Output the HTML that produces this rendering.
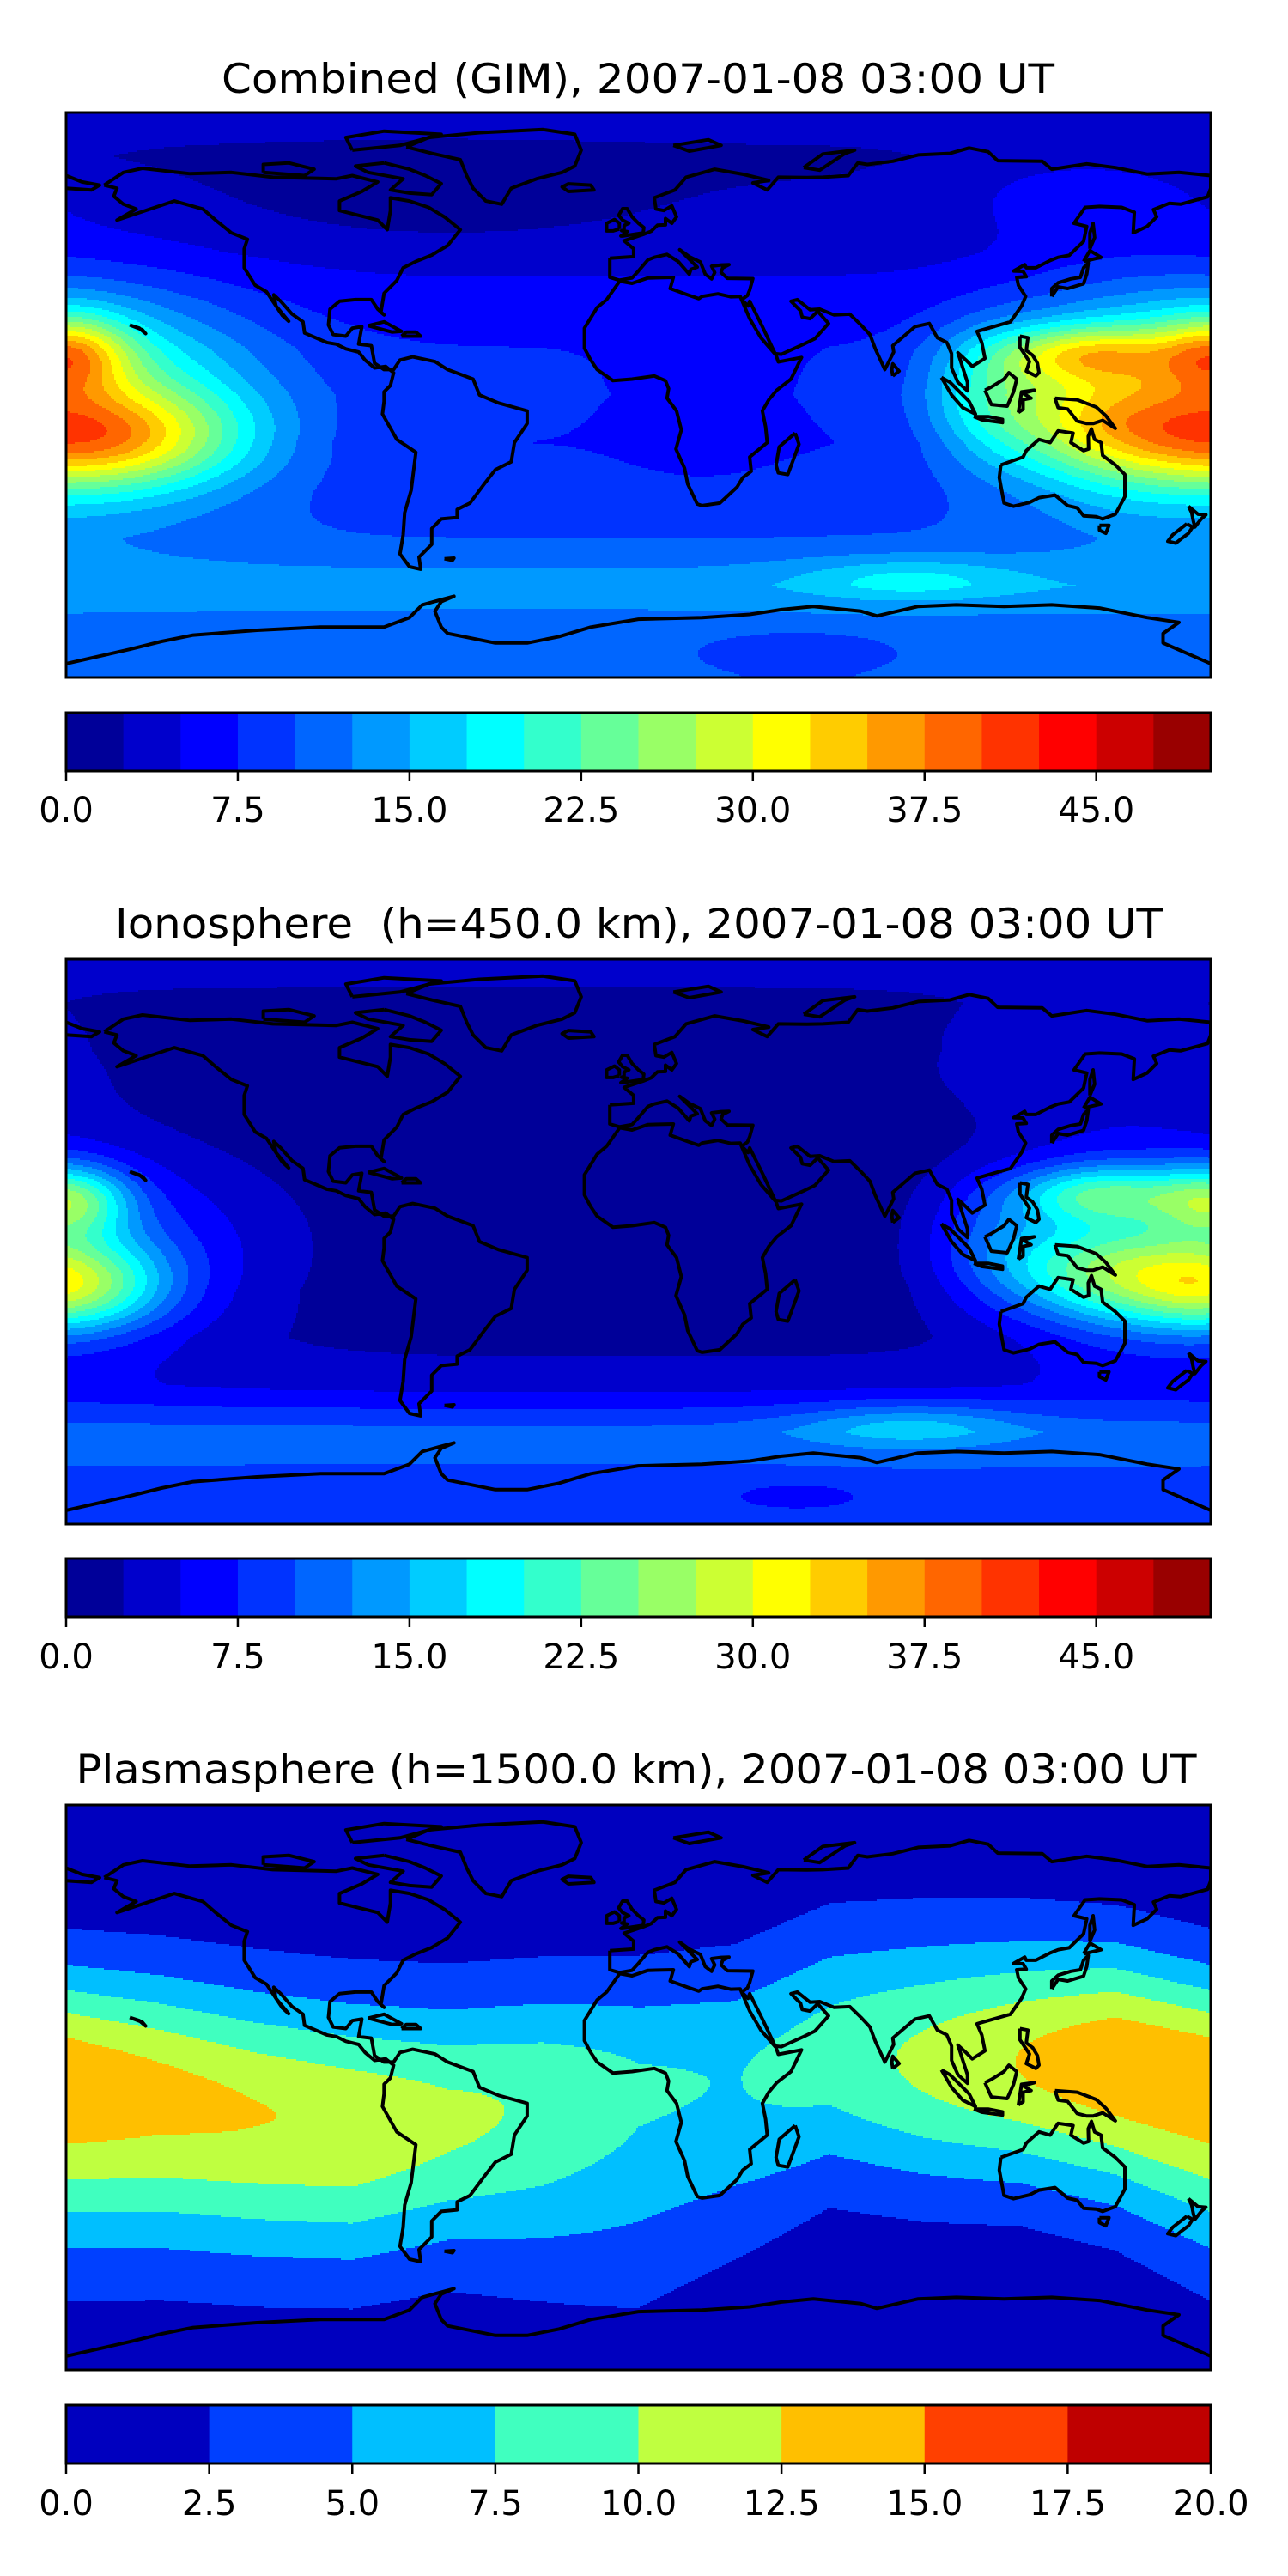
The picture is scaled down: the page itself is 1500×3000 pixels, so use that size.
<!DOCTYPE html>
<html><head><meta charset="utf-8">
<style>
html,body{margin:0;padding:0;background:#fff;}
body{width:1500px;height:3000px;position:relative;overflow:hidden;font-family:"DejaVu Sans","Liberation Sans",sans-serif;}
.map{position:absolute;left:77px;width:1333px;height:658px;}
.map svg{position:absolute;left:0;top:0;overflow:visible;}
svg.full{position:absolute;left:0;top:0;}
</style></head>
<body>
<div class="map" id="map1" style="top:131px"><svg id="f1" width="1333" height="658" shape-rendering="crispEdges"></svg><svg id="s1" width="1333" height="658"></svg></div>
<div class="map" id="map2" style="top:1117px"><svg id="f2" width="1333" height="658" shape-rendering="crispEdges"></svg><svg id="s2" width="1333" height="658"></svg></div>
<div class="map" id="map3" style="top:2102px"><svg id="f3" width="1333" height="658" shape-rendering="crispEdges"></svg><svg id="s3" width="1333" height="658"></svg></div>
<svg class="full" id="overlay" width="1500" height="3000">
<text x="743" y="108" text-anchor="middle" font-size="47" textLength="970" lengthAdjust="spacingAndGlyphs">Combined (GIM), 2007-01-08 03:00 UT</text>
<text x="744" y="1092" text-anchor="middle" font-size="47" textLength="1220" lengthAdjust="spacingAndGlyphs" xml:space="preserve">Ionosphere  (h=450.0 km), 2007-01-08 03:00 UT</text>
<text x="741" y="2077" text-anchor="middle" font-size="47" textLength="1305" lengthAdjust="spacingAndGlyphs">Plasmasphere (h=1500.0 km), 2007-01-08 03:00 UT</text>
</svg>
<script>
// ---------- data ----------
var latNodes = [90,75,60,45,30,15,0,-15,-30,-45,-60,-75,-90];
var base1 = [4,2,3,4,6,7.5,8,7.5,8.5,10,14,11,10];
var base2 = [3.5,2,1.2,1,0.8,0.8,0.8,0.8,1.5,4,11,9.5,9];
// blobs: [lon, lat, amplitude, sigmaLon, sigmaLat]
var blobs1 = [[-170,-14,18,45,15],[-178,13,14,18,12],[-170,0,14,50,32],[140,13,14,28,9],[140,-8,8,28,16],[150,0,8,40,35],[110,0,8,20,20],[85,-58,5,35,7],[50,-80,-3,25,5],[140,65,3,45,15],[20,-5,-2,25,20],[-60,62,-2.5,55,12]];
var blobs2 = [[-180,-14,19,30,14],[-178,13,14,18,11],[-180,-2,9,60,30],[145,15,13,28,9],[140,-10,10,28,14],[150,0,6,40,32],[110,0,5,20,18],[85,-58,6,35,7],[50,-80,-3,25,5],[140,55,3,50,18]];
// plasmasphere band model
var plasLon = [-180,-150,-120,-90,-60,-30,0,30,60,90,120,150,180];
var plasAmp = [14,12.8,12,11.5,10,9,7.2,6.8,8,10,12,14,14];
var plasCenter = [2,-2,-8,-12,-10,-5,0,2,10,8,8,8,2];
var plasWN = [34,36,38,39,38,37,36,38,40,40,38,35,34];
var plasWS = [49,47,45,43,42,50,60,50,40,39,38,42,49];
var levels1 = [0,2.5,5,7.5,10,12.5,15,17.5,20,22.5,25,27.5,30,32.5,35,37.5,40,42.5,45,47.5,50];
var levels3 = [0,2.5,5,7.5,10,12.5,15,17.5,20];
var ticks1 = ["0.0","7.5","15.0","22.5","30.0","37.5","45.0"];
var ticks3 = ["0.0","2.5","5.0","7.5","10.0","12.5","15.0","17.5","20.0"];

var W=1333,H=658,LATTOP=88.85,LATSPAN=177.7;
var NS='http://www.w3.org/2000/svg';
function clamp(v){return Math.max(0,Math.min(1,v));}
function jet(x){return [clamp(Math.min(4*x-1.5,-4*x+4.5)),clamp(Math.min(4*x-0.5,-4*x+3.5)),clamp(Math.min(4*x+0.5,-4*x+2.5))].map(function(v){return Math.round(v*255);});}
function binColors(n){var a=[];for(var i=0;i<n;i++)a.push(jet((i+0.5)/n));return a;}
function interp(nodes,vals,x){
  var desc=nodes[0]>nodes[nodes.length-1];
  for(var i=0;i<nodes.length-1;i++){
    var a=nodes[i],b=nodes[i+1];
    if((desc&&x<=a&&x>=b)||(!desc&&x>=a&&x<=b)){var t=(x-a)/(b-a);return vals[i]+(vals[i+1]-vals[i])*t;}
  }
  if(desc) return x>nodes[0]?vals[0]:vals[vals.length-1];
  return x<nodes[0]?vals[0]:vals[vals.length-1];
}
function blobField(base,blobs){
  return function(lon,lat){
    var v=interp(latNodes,base,lat);
    for(var i=0;i<blobs.length;i++){var b=blobs[i];var d=((lon-b[0]+540)%360)-180;var e=(d/b[3])*(d/b[3])+((lat-b[1])/b[4])*((lat-b[1])/b[4]);if(e<12)v+=b[2]*Math.exp(-e);}
    return v;
  };
}
function plasField(lon,lat){
  var a=interp(plasLon,plasAmp,lon),c=interp(plasLon,plasCenter,lon);
  var w=lat>c?interp(plasLon,plasWN,lon):interp(plasLon,plasWS,lon);
  return a*Math.exp(-((lat-c)/w)*((lat-c)/w))+0.6;
}
function render(id,field,levels){
  var svg=document.getElementById(id);
  var n=levels.length-1,lo=levels[0],step=levels[1]-levels[0],cols=binColors(n);
  var fills=cols.map(function(c){return 'rgb('+c.join(',')+')';});
  var S=2,parts=[];
  for(var py=0;py<H;py+=S){
    var lat=LATTOP-(py+S/2)/H*LATSPAN,start=0,prev=-1;
    for(var px=0;;px+=S){
      var k=-2,end=px>=W;
      if(!end){var lon=-180+(px+S/2)/W*360;k=Math.floor((field(lon,lat)-lo)/step);if(!(k>=0))k=0;if(k>n-1)k=n-1;}
      if(k!==prev){
        if(prev>=0)parts.push('<rect x="'+start+'" y="'+py+'" width="'+(Math.min(px,W)-start)+'" height="'+S+'" fill="'+fills[prev]+'"/>');
        start=px;prev=k;
      }
      if(end)break;
    }
  }
  svg.innerHTML=parts.join('');
}
try{render('f1',blobField(base1,blobs1),levels1);}catch(e){}
try{render('f2',blobField(base2,blobs2),levels1);}catch(e){}
try{render('f3',plasField,levels3);}catch(e){}

// ---------- coastlines ----------
var coasts = {
"north-america":[[-168,66],[-162,70],[-156,71.3],[-141,69.6],[-128,70],[-115,68.5],[-95,68],[-90,69],[-82,67],[-87,64],[-94,61],[-94,58],[-90,57],[-82,55],[-79,52],[-78,58],[-78,62],[-72,61],[-66,59],[-61,56],[-56,52],[-60,47],[-65,44],[-70,42],[-74,40],[-76,36],[-80,32],[-81,26],[-80,25.2],[-82,27],[-84,30],[-89,30],[-94,29.5],[-97,27],[-97.5,22],[-96,19],[-92,18.5],[-90,21],[-87,21.5],[-88,16],[-84,15.5],[-83,10],[-80,8],[-77,8],[-75,11],[-71,12],[-64,10.5],[-60,8],[-52,5],[-50,0],[-44,-2.5],[-35,-5],[-35,-9],[-39,-15],[-40,-21],[-45,-23.5],[-48.5,-28],[-53,-34],[-57,-36],[-57,-38.5],[-62,-39],[-65,-42],[-65,-47],[-69,-51],[-68.5,-54.8],[-72,-54],[-75,-50],[-74,-44],[-73.5,-37],[-71.5,-30],[-70,-18],[-76,-14],[-80.5,-6],[-80,-2],[-80,1],[-78,3],[-77,7],[-79.5,9],[-83,8.5],[-86,11],[-88,13.5],[-92,14.5],[-95,16],[-98,16.5],[-105,19.5],[-105.5,23],[-109,25.5],[-112.5,29.5],[-114.7,31.5],[-114,28],[-110,23.2],[-112,25],[-115,29.5],[-117,32.5],[-120.5,34.5],[-124,40],[-124,46],[-123,49],[-128,51],[-133,55],[-137,58.5],[-146,61],[-152,59],[-158,57],[-164,55],[-158,58.5],[-162,60],[-165,62.5],[-164,65],[-168,66]],
"greenland":[[-73,78],[-66,81],[-50,82.5],[-30,83.5],[-20,82],[-18,77],[-20,72],[-24,70],[-32,68],[-40,65],[-43,60],[-48,61],[-52,65],[-54,69],[-56,74],[-65,76],[-73,78]],
"baffin":[[-80,73],[-72,71],[-67,69],[-62,66.5],[-65,63],[-72,63.5],[-78,64.5],[-74,68],[-85,70],[-89,72],[-80,73]],
"victoria":[[-118,70],[-105,69],[-102,71],[-110,73],[-118,72.5],[-118,70]],
"ellesmere":[[-90,77],[-75,78.5],[-62,82],[-80,83],[-92,81],[-90,77]],
"africa":[[-5.9,35.8],[-10,30],[-13,27.5],[-17,21],[-17,14.7],[-15,11],[-13,8],[-8,4.5],[-2,5],[5,6],[8.5,4.5],[9.5,2],[9,-1],[12,-5],[13.5,-11],[11.8,-17],[14.5,-23],[15.5,-28],[18.5,-34.3],[20,-34.8],[25.6,-34],[31,-29],[32.8,-26],[35.5,-24],[35,-19.5],[40.5,-15],[40,-10],[39,-5],[41,-1.5],[43.5,1.5],[48,5],[51.3,11.8],[44,10.4],[43.3,12.5],[38.5,18],[35,24],[32.5,29.9],[32,31],[29,30.9],[25,31.8],[20,31],[19,30.3],[15.5,31.5],[10,33.5],[11,37],[3,36.8],[-2,35.1],[-5.9,35.8]],
"eurasia":[[-9,43],[-9,37],[-6,36.1],[-2,36.8],[0,39],[3,42.5],[5,43.3],[9,44.2],[12.5,42],[16,38],[16.5,39.5],[18.5,40.2],[13,45.7],[16,43.5],[19.5,41.8],[21,38],[23,36.5],[24,38.5],[23,40.5],[26,40.9],[28.5,41],[26.5,40],[26,38.5],[28,36.7],[36,36.6],[35,33],[34.3,31.3],[32.5,30],[34.5,28],[35,29.5],[39,21.5],[43,13],[45,12.8],[52,16],[55.5,17.7],[59.8,22.5],[56.4,26.3],[54,24],[51.5,24.5],[51,26.5],[48,29.5],[50,30],[54,26.8],[57,27],[61.5,25.2],[66.5,25.4],[70,22],[72.8,19],[74.5,14.5],[77.5,8],[80.3,13.5],[80,15.5],[87,21.5],[91.5,22.5],[94,18],[97,16.5],[98.5,13],[98.5,8.5],[100.5,4],[103.5,1.3],[103.5,4],[100.5,13.3],[103,11],[105,9],[109,11.5],[108,16.5],[106.5,20],[110,21],[117,23],[120.5,28],[121.8,31],[119.5,34.5],[119,37],[122,37.2],[121,38.9],[118,39],[121.5,41],[122,40],[125,40],[129.5,42.3],[132,43.3],[135.5,43.9],[140,48.3],[141,53],[137,54],[140.5,59],[145,59.3],[152,59],[156,57.5],[155.6,51],[160,53],[163,56],[162,58.3],[167,60.3],[170.5,60],[179,62.3],[180,65],[180,69],[170,70],[160,69.5],[150,71.5],[141,72.7],[130,71],[127,73.5],[113,73.7],[110,76.5],[104,77.7],[98,76],[88,75.5],[80,73.5],[72,72.5],[69,73],[66,69],[58,68.5],[53,68.4],[44,68.5],[40.5,64.5],[36,66.7],[41,67.5],[33,69.4],[24,71],[15,68.5],[11.5,64.5],[5,62],[5.5,58.5],[8,58],[10.5,59.5],[12,56],[10.5,54],[8.5,55.5],[8.5,53.5],[6,53.4],[4,51.5],[1.5,50.5],[-1.5,49.5],[-4.5,48.5],[-1.5,46],[-1.5,43.5],[-9,43]],
"chukotka":[[-180,65],[-172,64.5],[-169.5,66],[-175,67],[-180,69]],
"britain":[[-5,50],[1.5,51],[1.7,52.7],[0,54],[-2,56],[-3.5,58.6],[-5,58.6],[-6.2,56.5],[-5,55],[-3,54],[-4.5,53.3],[-4.5,52],[-5.3,51.7],[-3.5,51.4],[-5.5,50],[-5,50]],
"ireland":[[-6,52.2],[-6,54],[-7.5,55.2],[-10,54],[-10,51.6],[-8,51.6],[-6,52.2]],
"iceland":[[-22,64],[-14,64.5],[-15,66],[-22,66.4],[-24,65.4],[-22,64]],
"svalbard":[[11,78.5],[22,80.3],[26,78.5],[16,76.7],[11,78.5]],
"novaya-zemlya":[[52,71.5],[57,70.7],[65,76],[68,77],[58,75.8],[52,71.5]],
"japan":[[130,31],[132,34],[135,33.5],[140,35],[141,38],[141.5,41.5],[140,40],[139,37],[136,36.5],[132,35.3],[130,33.5],[130,31]],
"hokkaido":[[140,42],[145.5,43.3],[142,45.4],[140,42]],
"sakhalin":[[142,46],[143.5,49.5],[143,54],[142,51],[142,46]],
"sri-lanka":[[80,6],[82,7.5],[80,9.8],[79.7,8],[80,6]],
"madagascar":[[49.3,-12],[50.5,-15.5],[47,-25],[44,-24.5],[43.3,-22],[44.3,-16.3],[49.3,-12]],
"sumatra":[[95.3,5.5],[98,4],[104,-2],[106,-6],[102,-4],[98.5,0],[95.3,5.5]],
"java":[[105.5,-6.8],[110,-6.8],[114.5,-7.7],[114.5,-8.7],[108,-7.8],[105.5,-6.8]],
"borneo":[[109,1.5],[111,-3],[116,-3.5],[118,1],[119,5],[116.5,7],[115,5],[111,2.5],[109,1.5]],
"sulawesi":[[119.5,-5.5],[120.5,1],[124.5,1.5],[121,0.5],[123.5,-1],[121,-1.5],[121,-4.5],[119.5,-5.5]],
"philippines":[[120,18.5],[122.5,18],[122,14],[124,12.5],[125.5,10],[126,7],[125,6],[122,7.5],[123,10.5],[121,13.5],[120,15],[120,18.5]],
"new-guinea":[[131,-1],[138,-1.5],[144,-3.8],[147,-6.5],[150,-10.5],[146,-8],[143,-9],[141,-9],[138,-8.2],[135,-4.4],[132,-4],[131,-1]],
"australia":[[114,-22],[113.5,-26],[115,-34],[118,-35],[123,-33.8],[126,-32.3],[131,-31.5],[135,-34.8],[138,-35.5],[140,-38],[144,-38.3],[146,-39],[150,-37.5],[153,-32],[153,-25],[150,-22],[146,-19],[145.5,-15],[143.5,-14],[142.5,-10.7],[141.5,-13],[141.6,-17],[140,-17.5],[136,-15],[136.7,-12],[132,-11.3],[129.5,-15],[126,-14],[122,-17.5],[121,-19.5],[114,-22]],
"tasmania":[[145,-41],[148,-41],[147,-43.5],[145,-42.5],[145,-41]],
"nz-north":[[173,-35],[176,-37.5],[178.5,-37.7],[177,-39],[175,-41.5],[174.5,-39.5],[174,-37],[173,-35]],
"nz-south":[[172.5,-40.5],[174.3,-41.5],[173,-43.5],[171,-45],[169,-46.6],[166.5,-46],[168,-44],[172.5,-40.5]],
"antarctica":[[-180,-84.5],[-160,-80],[-150,-77.5],[-140,-75.5],[-120,-74],[-100,-73],[-80,-73],[-72,-70],[-68,-66],[-58,-63.3],[-62,-65],[-64,-68],[-62,-73],[-60,-75],[-45,-78],[-35,-78],[-25,-76],[-15,-73],[0,-70.5],[20,-70],[35,-69],[45,-67.5],[55,-66.5],[70,-68],[75,-69.5],[88,-66.5],[100,-66],[115,-66.5],[130,-66],[145,-67],[160,-70],[170,-71.5],[165,-75],[165,-78],[180,-84.5]],
"cuba":[[-85,21.8],[-80,23],[-74.5,20],[-77.5,19.8],[-85,21.8]],
"hispaniola":[[-74.5,18.5],[-68.5,18.5],[-70,19.8],[-73,19.8],[-74.5,18.5]],
"hawaii":[[-160,22],[-156,20.5],[-155,19.3],[-157,21],[-160,22]],
"falklands":[[-61,-51.5],[-58,-51.3],[-58.5,-52],[-61,-51.5]]
};
function proj(p){return ((p[0]+180)/360*W).toFixed(1)+','+((LATTOP-p[1])/LATSPAN*H).toFixed(1);}
['s1','s2','s3'].forEach(function(sid){
  var svg=document.getElementById(sid);
  Object.keys(coasts).forEach(function(name){
    var pl=document.createElementNS(NS,'polyline');
    pl.setAttribute('points',coasts[name].map(proj).join(' '));
    pl.setAttribute('fill','none');pl.setAttribute('stroke','#000');pl.setAttribute('stroke-width','4');pl.setAttribute('stroke-linejoin','round');
    
    
    svg.appendChild(pl);
  });
  var r=document.createElementNS(NS,'rect');
  r.setAttribute('x','0');r.setAttribute('y','0');r.setAttribute('width',W);r.setAttribute('height',H);
  r.setAttribute('fill','none');r.setAttribute('stroke','#000');r.setAttribute('stroke-width','3');
  
  
  svg.appendChild(r);
});

// ---------- colorbars ----------
var ov=document.getElementById('overlay');
function colorbar(top,levels,ticks,labelY,prefix){
  var x0=77,w=1333,h=68,n=levels.length-1,cols=binColors(n);
  var span=levels[n]-levels[0];
  function xs(v){return x0+(v-levels[0])/span*w;}
  for(var i=0;i<n;i++){
    var r=document.createElementNS(NS,'rect');
    r.setAttribute('x',xs(levels[i]));r.setAttribute('y',top);r.setAttribute('width',xs(levels[i+1])-xs(levels[i])+0.5);r.setAttribute('height',h);
    r.setAttribute('fill','rgb('+cols[i].join(',')+')');
    
    
    ov.appendChild(r);
  }
  var f=document.createElementNS(NS,'rect');
  f.setAttribute('x',x0);f.setAttribute('y',top);f.setAttribute('width',w);f.setAttribute('height',h);
  f.setAttribute('fill','none');f.setAttribute('stroke','#000');f.setAttribute('stroke-width','3');
  
  
  ov.appendChild(f);
  ticks.forEach(function(t){
    var x=xs(Number(t));
    var l=document.createElementNS(NS,'line');
    l.setAttribute('x1',x);l.setAttribute('x2',x);l.setAttribute('y1',top+h);l.setAttribute('y2',top+h+12);
    l.setAttribute('stroke','#000');l.setAttribute('stroke-width','2.5');
    
    
    ov.appendChild(l);
    var tx=document.createElementNS(NS,'text');
    tx.setAttribute('x',x);tx.setAttribute('y',labelY);tx.setAttribute('text-anchor','middle');tx.setAttribute('font-size','40');
    tx.textContent=t;
    
    
    ov.appendChild(tx);
  });
}
colorbar(830,levels1,ticks1,957,'combined');
colorbar(1815,levels1,ticks1,1943,'ionosphere');
colorbar(2801,levels3,ticks3,2929,'plasmasphere');
</script>
</body></html>
